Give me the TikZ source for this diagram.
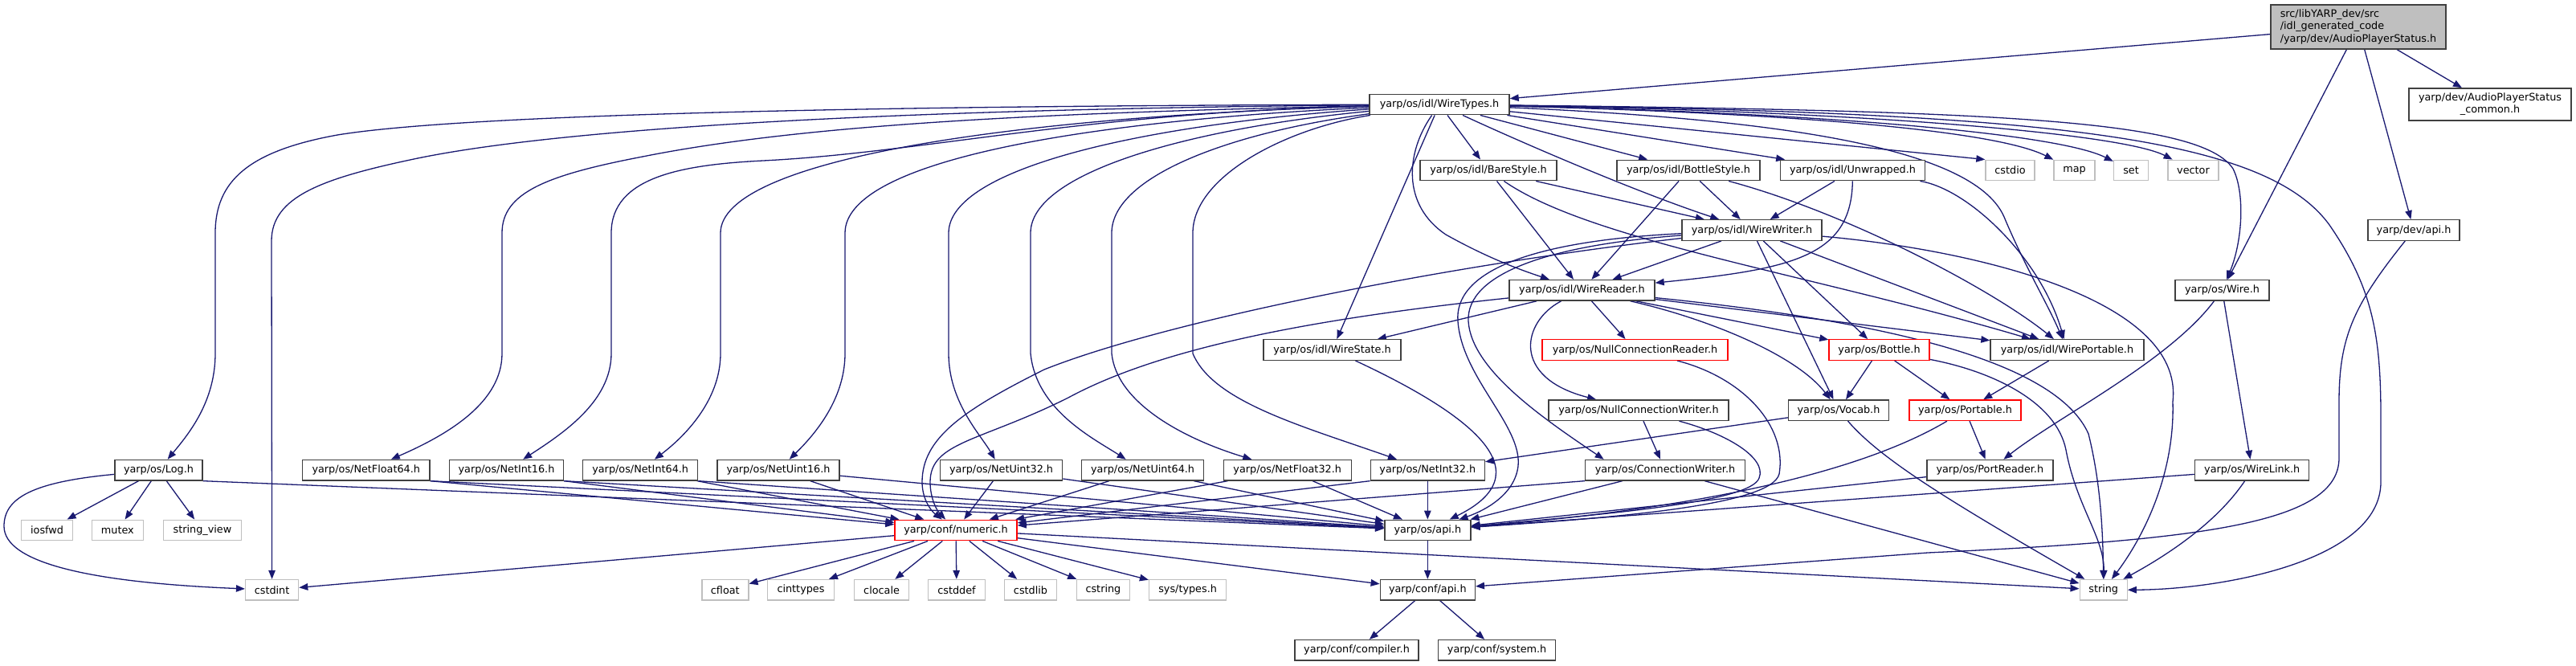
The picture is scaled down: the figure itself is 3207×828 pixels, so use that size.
\documentclass[tikz,border=0pt]{standalone}
\usepackage{fontspec}
\setmainfont{DejaVu Sans}
\usetikzlibrary{arrows.meta}
\definecolor{edgec}{HTML}{191970}
\definecolor{nodeb}{HTML}{404040}
\definecolor{sysb}{HTML}{BFBFBF}
\definecolor{rootf}{HTML}{BFBFBF}
\newcommand{\dgfont}{\fontsize{12.8}{15.2}\selectfont}
\pgfdeclarelayer{bg}
\pgfsetlayers{bg,main}
\begin{document}
\begin{tikzpicture}[x=1pt,y=-1pt,
  nb/.style={draw=nodeb, fill=white, line width=1.4pt, inner sep=0pt, minimum height=25.5pt, font=\dgfont},
  tb/.style={nb, draw=red},
  sb/.style={nb, draw=sysb},
  ed/.style={draw=edgec, line width=1.3pt, -{Triangle[length=11pt,width=8.5pt]}}]
\useasboundingbox (0,0) rectangle (3207,828);

\node[nb, fill=rootf, minimum width=218pt, minimum height=55pt, align=left] (root) at (2936,33.3) {src/libYARP\_dev/src\\/idl\_generated\_code\\/yarp/dev/AudioPlayerStatus.h};
\node[nb, minimum width=202pt, minimum height=40pt, align=center] (common) at (3100,130) {yarp/dev/AudioPlayerStatus\\\_common.h};
\node[nb, minimum width=174pt] (wt) at (1792,130) {yarp/os/idl/WireTypes.h};
\node[sb, minimum width=61pt] (cstdio) at (2502.5,212) {cstdio};
\node[sb, minimum width=51pt] (map) at (2582.5,212) {map};
\node[sb, minimum width=43pt] (set) at (2653,212) {set};
\node[sb, minimum width=63pt] (vector) at (2730.5,212) {vector};
\node[nb, minimum width=170pt] (bs) at (1853,212) {yarp/os/idl/BareStyle.h};
\node[nb, minimum width=178pt] (bts) at (2102,212) {yarp/os/idl/BottleStyle.h};
\node[nb, minimum width=180pt] (uw) at (2306.5,212) {yarp/os/idl/Unwrapped.h};
\node[nb, minimum width=174pt] (ww) at (2181,286.5) {yarp/os/idl/WireWriter.h};
\node[nb, minimum width=114pt] (devapi) at (3005,286.5) {yarp/dev/api.h};
\node[nb, minimum width=181pt] (wr) at (1969.5,361.3) {yarp/os/idl/WireReader.h};
\node[nb, minimum width=117pt] (wire) at (2766.5,361.3) {yarp/os/Wire.h};
\node[nb, minimum width=171pt] (ws) at (1658.5,435.5) {yarp/os/idl/WireState.h};
\node[tb, minimum width=231pt] (ncr) at (2035.5,435.5) {yarp/os/NullConnectionReader.h};
\node[tb, minimum width=125pt] (bottle) at (2339.5,435.5) {yarp/os/Bottle.h};
\node[nb, minimum width=191pt] (wp) at (2573.5,435.5) {yarp/os/idl/WirePortable.h};
\node[nb, minimum width=224pt] (ncw) at (2040,510.7) {yarp/os/NullConnectionWriter.h};
\node[nb, minimum width=125pt] (vocab) at (2289,510.7) {yarp/os/Vocab.h};
\node[tb, minimum width=139pt] (portable) at (2446.5,510.7) {yarp/os/Portable.h};
\node[nb, minimum width=109pt] (log) at (197.5,585.2) {yarp/os/Log.h};
\node[sb, minimum width=64pt] (iosfwd) at (58.6,660) {iosfwd};
\node[sb, minimum width=64pt] (mutex) at (146.4,660) {mutex};
\node[sb, minimum width=97pt] (sview) at (252,660) {string\_view};
\node[sb, minimum width=66pt] (cstdint) at (338.6,734.3) {cstdint};
\node[nb, minimum width=158.5pt] (nf64) at (455.8,585.2) {yarp/os/NetFloat64.h};
\node[nb, minimum width=142pt] (ni16) at (630.5,585.2) {yarp/os/NetInt16.h};
\node[nb, minimum width=143pt] (ni64) at (797.2,585.2) {yarp/os/NetInt64.h};
\node[nb, minimum width=152pt] (nu16) at (969,585.2) {yarp/os/NetUint16.h};
\node[nb, minimum width=152pt] (nu32) at (1246.6,585.2) {yarp/os/NetUint32.h};
\node[nb, minimum width=152pt] (nu64) at (1422.6,585.2) {yarp/os/NetUint64.h};
\node[nb, minimum width=159pt] (nf32) at (1602.7,585.2) {yarp/os/NetFloat32.h};
\node[nb, minimum width=142pt] (ni32) at (1777.3,585.2) {yarp/os/NetInt32.h};
\node[nb, minimum width=199pt] (cw) at (2073,585.2) {yarp/os/ConnectionWriter.h};
\node[nb, minimum width=157pt] (pr) at (2477.3,585.2) {yarp/os/PortReader.h};
\node[nb, minimum width=142pt] (wl) at (2803.7,585.2) {yarp/os/WireLink.h};
\node[tb, minimum width=152pt] (numeric) at (1190,660) {yarp/conf/numeric.h};
\node[nb, minimum width=107pt] (osapi) at (1777.3,660) {yarp/os/api.h};
\node[nb, minimum width=118pt] (confapi) at (1777.3,734.3) {yarp/conf/api.h};
\node[sb, minimum width=58pt] (cfloat) at (902.8,734.3) {cfloat};
\node[sb, minimum width=83pt] (cinttypes) at (997,734.3) {cinttypes};
\node[sb, minimum width=68pt] (clocale) at (1097.6,734.3) {clocale};
\node[sb, minimum width=71pt] (cstddef) at (1191,734.3) {cstddef};
\node[sb, minimum width=65pt] (cstdlib) at (1283,734.3) {cstdlib};
\node[sb, minimum width=66pt] (cstring) at (1373.4,734.3) {cstring};
\node[sb, minimum width=96pt] (systypes) at (1478.6,734.3) {sys/types.h};
\node[sb, minimum width=59pt] (string) at (2618.7,734.3) {string};
\node[nb, minimum width=154pt] (compiler) at (1689,809.3) {yarp/conf/compiler.h};
\node[nb, minimum width=146pt] (system) at (1863.6,809.3) {yarp/conf/system.h};

\begin{pgfonlayer}{bg}
% root
\draw[ed] (root) -- (wt);
\draw[ed] (root) -- (common);
\draw[ed] (root) -- (wire);
\draw[ed] (root) -- (devapi);
% WireTypes to the left
\draw[ed] (wt) .. controls (1000,132) and (560,145) .. (420,168) .. controls (310,188) and (268,225) .. (268,290) -- (268,440) .. controls (268,500) and (235,540) .. (log);
\draw[ed] (wt) .. controls (1100,136) and (700,160) .. (520,197) .. controls (400,222) and (338,245) .. (338,300) -- (cstdint);
\draw[ed] (wt) .. controls (1300,140) and (1000,155) .. (800,195) .. controls (680,218) and (625,240) .. (625,290) -- (625,440) .. controls (625,500) and (560,540) .. (nf64);
\draw[ed] (wt) .. controls (1350,140) and (1150,190) .. (950,200) .. controls (850,205) and (761,220) .. (761,290) -- (761,440) .. controls (761,500) and (700,540) .. (ni16);
\draw[ed] (wt) .. controls (1250,145) and (897,200) .. (897,290) -- (897,440) .. controls (897,500) and (850,545) .. (ni64);
\draw[ed] (wt) .. controls (1350,150) and (1052,200) .. (1052,290) -- (1052,440) .. controls (1052,500) and (1010,545) .. (nu16);
\draw[ed] (wt) .. controls (1420,155) and (1181,210) .. (1181,290) -- (1181,440) .. controls (1181,500) and (1220,540) .. (nu32);
\draw[ed] (wt) .. controls (1480,160) and (1283,215) .. (1283,290) -- (1283,440) .. controls (1290,510) and (1360,545) .. (nu64);
\draw[ed] (wt) .. controls (1530,165) and (1384,220) .. (1384,290) -- (1384,440) .. controls (1390,500) and (1470,545) .. (nf32);
\draw[ed] (wt) .. controls (1600,160) and (1485,220) .. (1485,290) -- (1485,440) .. controls (1510,500) and (1620,530) .. (ni32);
% WireTypes to the right
\draw[ed] (wt) -- (cstdio.north west);
\draw[ed] (wt) .. controls (2200,140) and (2480,160) .. (map);
\draw[ed] (wt) .. controls (2250,140) and (2560,165) .. (set);
\draw[ed] (wt) .. controls (2300,138) and (2640,165) .. (vector);
\draw[ed] (wt) .. controls (2500,138) and (2740,150) .. (2780,210) .. controls (2795,240) and (2792,300) .. (wire);
\draw[ed] (wt) .. controls (2550,140) and (2820,170) .. (2900,280) .. controls (2955,360) and (2964,420) .. (2964,520) -- (2964,600) .. controls (2964,700) and (2760,734) .. (string);
\draw[ed] (wt) .. controls (2250,150) and (2460,190) .. (2495,270) .. controls (2520,330) and (2550,380) .. (wp);
% WireTypes below
\draw[ed] (wt) .. controls (1750,190) and (1745,255) .. (1800,292) .. controls (1850,320) and (1890,335) .. (wr);
\draw[ed] (wt) -- (ws);
\draw[ed] (wt) -- (bs);
\draw[ed] (wt) -- (bts);
\draw[ed] (wt) -- (uw);
\draw[ed] (wt) .. controls (1900,180) and (2040,240) .. (ww);
% BareStyle
\draw[ed] (bs) -- (ww);
\draw[ed] (bs) -- (wr);
\draw[ed] (bs) .. controls (1980,300) and (2250,340) .. (wp);
% BottleStyle
\draw[ed] (bts) -- (ww);
\draw[ed] (bts) -- (wr);
\draw[ed] (bts) .. controls (2300,265) and (2480,360) .. (wp);
% Unwrapped
\draw[ed] (uw) -- (ww);
\draw[ed] (uw) .. controls (2305,320) and (2230,335) .. (wr);
\draw[ed] (uw) .. controls (2450,235) and (2540,320) .. (wp);
% WireWriter
\draw[ed] (ww) -- (wr);
\draw[ed] (ww) .. controls (1800,330) and (1450,400) .. (1300,460) .. controls (1200,510) and (1148,545) .. (1148,600) .. controls (1148,620) and (1158,635) .. (numeric);
\draw[ed] (ww) .. controls (1900,300) and (1810,340) .. (1815,400) .. controls (1820,470) and (1895,530) .. (1890,580) .. controls (1886,615) and (1850,635) .. (osapi);
\draw[ed] (ww) .. controls (1930,305) and (1825,340) .. (1828,400) .. controls (1832,460) and (1920,520) .. (cw.170);
\draw[ed] (ww) -- (bottle);
\draw[ed] (ww) -- (vocab);
\draw[ed] (ww) -- (wp);
\draw[ed] (ww) .. controls (2450,310) and (2720,370) .. (2705,500) .. controls (2708,600) and (2660,680) .. (string);
% WireReader
\draw[ed] (wr) -- (ws);
\draw[ed] (wr) -- (ncr);
\draw[ed] (wr) .. controls (1895,400) and (1880,470) .. (ncw);
\draw[ed] (wr) .. controls (2120,395) and (2235,440) .. (vocab);
\draw[ed] (wr) -- (bottle);
\draw[ed] (wr) -- (wp);
\draw[ed] (wr) .. controls (2350,400) and (2560,450) .. (2600,540) .. controls (2615,600) and (2618,660) .. (string);
\draw[ed] (wr) .. controls (1650,395) and (1450,430) .. (1330,495) .. controls (1220,550) and (1158,550) .. (1158,600) .. controls (1158,620) and (1166,635) .. (numeric);
% Bottle
\draw[ed] (bottle) -- (vocab);
\draw[ed] (bottle) -- (portable);
\draw[ed] (bottle) .. controls (2480,462) and (2560,500) .. (2572,560) .. controls (2585,630) and (2620,670) .. (string);
% Vocab
\draw[ed] (vocab) -- (ni32);
\draw[ed] (vocab) .. controls (2340,570) and (2420,620) .. (string);
% WirePortable, Portable
\draw[ed] (wp) -- (portable);
\draw[ed] (portable) -- (pr);
\draw[ed] (portable) .. controls (2330,580) and (2150,630) .. (osapi);
% Wire
\draw[ed] (wire) .. controls (2700,450) and (2560,520) .. (pr);
\draw[ed] (wire) -- (wl);
% dev/api
\draw[ed] (devapi) .. controls (2930,380) and (2912,420) .. (2912,500) -- (2912,570) .. controls (2912,650) and (2750,672) .. (2400,688) -- (confapi);
% WireLink, PortReader
\draw[ed] (wl) -- (osapi);
\draw[ed] (wl) .. controls (2760,650) and (2700,690) .. (string);
\draw[ed] (pr) -- (osapi);
% ConnectionWriter
\draw[ed] (cw) -- (osapi);
\draw[ed] (cw.south west) -- (numeric);
\draw[ed] (cw) -- (string);
% NullConnectionWriter / Reader
\draw[ed] (ncw) -- (cw);
\draw[ed] (ncw) .. controls (2150,540) and (2200,570) .. (2190,595) .. controls (2180,625) and (2000,640) .. (osapi);
\draw[ed] (ncr) .. controls (2170,470) and (2225,530) .. (2215,590) .. controls (2205,630) and (2000,645) .. (osapi);
% WireState
\draw[ed] (ws) .. controls (1840,520) and (1920,590) .. (osapi);
% Log
\draw[ed] (log) -- (iosfwd);
\draw[ed] (log) -- (mutex);
\draw[ed] (log) -- (sview);
\draw[ed] (log) .. controls (40,600) and (5,620) .. (5,655) .. controls (5,700) and (110,725) .. (cstdint);
\draw[ed] (log.south east) -- (osapi);
% Net* headers
\draw[ed] (nf64.south east) -- (numeric);
\draw[ed] (nf64.south east) -- (osapi);
\draw[ed] (ni16.south east) -- (numeric);
\draw[ed] (ni16.south east) -- (osapi);
\draw[ed] (ni64) -- (numeric);
\draw[ed] (ni64.south east) -- (osapi);
\draw[ed] (nu16) -- (numeric);
\draw[ed] (nu16) -- (osapi);
\draw[ed] (nu32) -- (numeric);
\draw[ed] (nu32) -- (osapi);
\draw[ed] (nu64) -- (numeric);
\draw[ed] (nu64) -- (osapi);
\draw[ed] (nf32) -- (numeric);
\draw[ed] (nf32) -- (osapi);
\draw[ed] (ni32.south west) -- (numeric);
\draw[ed] (ni32) -- (osapi);
% numeric
\draw[ed] (numeric) -- (cstdint);
\draw[ed] (numeric) -- (cfloat);
\draw[ed] (numeric) -- (cinttypes);
\draw[ed] (numeric) -- (clocale);
\draw[ed] (numeric) -- (cstddef);
\draw[ed] (numeric) -- (cstdlib);
\draw[ed] (numeric) -- (cstring);
\draw[ed] (numeric) -- (systypes);
\draw[ed] (numeric) -- (string);
\draw[ed] (numeric) -- (confapi);
% api
\draw[ed] (osapi) -- (confapi);
\draw[ed] (confapi) -- (compiler);
\draw[ed] (confapi) -- (system);
\end{pgfonlayer}
\end{tikzpicture}
\end{document}
